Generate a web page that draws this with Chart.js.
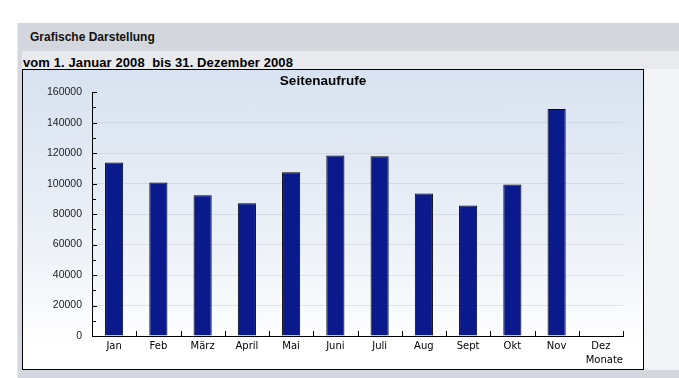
<!DOCTYPE html>
<html>
<head>
<meta charset="utf-8">
<script src="https://cdn.jsdelivr.net/npm/chart.js@4.4.1/dist/chart.umd.min.js"></script>
<style>
  html, body { margin:0; padding:0; width:679px; height:378px; overflow:hidden; background:#ffffff; }
  #frame { position:absolute; left:17px; top:23px; width:662px; height:355px; background:#d4d8de; border-left:1px solid #e6e8eb; }
  #head { position:absolute; left:30px; top:30px; font:bold 12px "Liberation Sans", Arial, sans-serif; color:#111; }
  #subrow { position:absolute; left:22px; top:51px; width:657px; height:18px; background:#e8eaed; }
  #sub { position:absolute; left:23px; top:55px; font:bold 13px "Liberation Sans", Arial, sans-serif; letter-spacing:0.1px; color:#000; white-space:pre; }
  #rightbg { position:absolute; left:644px; top:69px; width:35px; height:301px; background:#f3f4f6; }
  #box { position:absolute; left:22px; top:69px; width:620px; height:299px; border:1px solid #000;
         background:linear-gradient(to bottom, #d8e2f0 0%, #eef2f8 60%, #ffffff 92%); }
  canvas { display:block; }
</style>
</head>
<body>
<div id="frame"></div>
<div id="head">Grafische Darstellung</div>
<div id="subrow"></div>
<div id="sub">vom 1. Januar 2008  bis 31. Dezember 2008</div>
<div id="rightbg"></div>
<div id="box"><canvas id="c" width="620" height="299"></canvas></div>
<script>
const categories = ["Jan","Feb","März","April","Mai","Juni","Juli","Aug","Sept","Okt","Nov","Dez"];
const pageViews = [113800, 100800, 92300, 87200, 107400, 118500, 117900, 93600, 85600, 99500, 149000, 0];
const yTicks = [0, 20000, 40000, 60000, 80000, 100000, 120000, 140000, 160000];
const chartTitle = "Seitenaufrufe";
const xAxisTitle = "Monate";

const inwardTicks = {
  id: 'inwardTicks',
  afterDatasetsDraw(chart) {
    const ctx = chart.ctx;
    const x = chart.scales.x, y = chart.scales.y;
    const area = chart.chartArea;
    ctx.save();
    ctx.strokeStyle = '#000';
    ctx.lineWidth = 1;
    ctx.beginPath();
    for (let v = y.min; v <= y.max; v += 10000) {
      const py = Math.round(y.getPixelForValue(v)) + 0.5;
      const len = (v % 20000 === 0) ? 5 : 4;
      ctx.moveTo(area.left, py);
      ctx.lineTo(area.left + len, py);
    }
    const n = categories.length;
    for (let i = 1; i <= n; i++) {
      const next = i < n ? x.getPixelForValue(i) : 2 * x.getPixelForValue(n - 1) - x.getPixelForValue(n - 2);
      const px = Math.round((x.getPixelForValue(i - 1) + next) / 2) + 0.5;
      ctx.moveTo(px, area.bottom);
      ctx.lineTo(px, area.bottom - 5);
    }
    ctx.stroke();
    ctx.restore();
  }
};

new Chart(document.getElementById('c'), {
  type: 'bar',
  data: {
    labels: categories,
    datasets: [{
      data: pageViews,
      backgroundColor: '#0a1a8c',
      borderColor: '#000000',
      borderWidth: 1,
      categoryPercentage: 1.0,
      barPercentage: 0.41
    }]
  },
  options: {
    responsive: false,
    animation: false,
    devicePixelRatio: 1,
    layout: { padding: { left: 0, right: 20, top: 0, bottom: 0 } },
    plugins: {
      legend: { display: false },
      tooltip: { enabled: false },
      title: {
        display: true,
        text: chartTitle,
        color: '#000',
        font: { family: '"Liberation Sans", Arial, sans-serif', size: 13.5, weight: 'bold' },
        padding: { top: 3, bottom: 3 }
      }
    },
    scales: {
      x: {
        offset: true,
        border: { display: true, color: '#000', width: 1 },
        grid: { display: false, drawTicks: false },
        ticks: { color: '#000', padding: 4, maxRotation: 0, autoSkip: false,
                 font: { family: '"DejaVu Sans", Verdana, sans-serif', size: 10 } },
        title: { display: true, text: xAxisTitle, align: 'end', color: '#000',
                 font: { family: '"DejaVu Sans", Verdana, sans-serif', size: 10 },
                 padding: { top: 2, bottom: 3 } },
        afterFit(scale) { scale.height = 33; }
      },
      y: {
        min: 0, max: 160000,
        border: { display: true, color: '#000', width: 1 },
        grid: { drawTicks: false, color: (c) => (c.tick && c.tick.value > 0 && c.tick.value < 160000) ? 'rgba(190,198,210,0.45)' : 'rgba(0,0,0,0)' },
        afterBuildTicks(scale) { scale.ticks = yTicks.map(v => ({ value: v })); },
        ticks: { color: '#222', padding: 10,
                 callback: (v) => String(v),
                 font: { family: '"Liberation Sans", Arial, sans-serif', size: 10.5 } },
        afterFit(scale) { scale.width = 69; }
      }
    }
  },
  plugins: [inwardTicks]
});
</script>
</body>
</html>
